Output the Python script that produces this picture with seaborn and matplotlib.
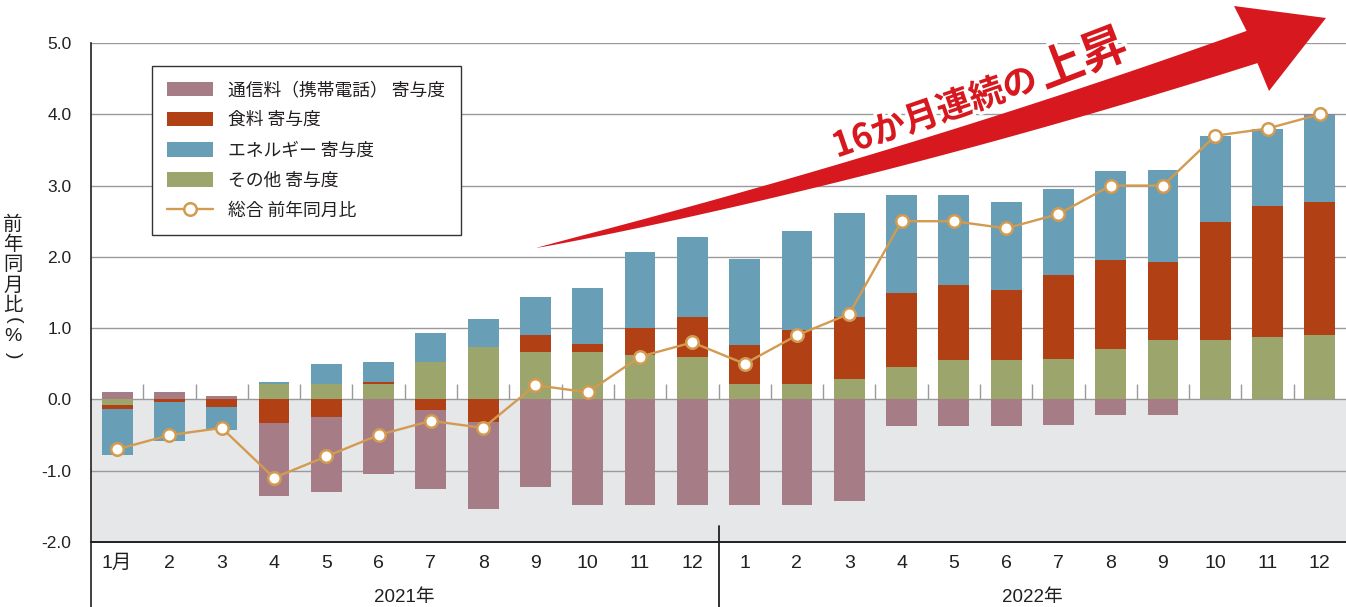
import numpy as np
import matplotlib
matplotlib.use("Agg")
import matplotlib.pyplot as plt
import matplotlib.transforms as mtransforms
import matplotlib.patheffects as pe
from matplotlib.patches import Patch, Polygon
from matplotlib.lines import Line2D
from matplotlib import font_manager
import seaborn as sns

# ---- data: contributions to CPI year-on-year change (percentage points) ----
month_labels = ["1月", "2", "3", "4", "5", "6", "7", "8", "9", "10", "11", "12",
                "1", "2", "3", "4", "5", "6", "7", "8", "9", "10", "11", "12"]
year_labels = ["2021年", "2022年"]

other = [-0.08, 0.00, 0.00, 0.22, 0.21, 0.22, 0.52, 0.74, 0.67, 0.66, 0.63, 0.60,
         0.21, 0.22, 0.28, 0.45, 0.55, 0.56, 0.57, 0.71, 0.83, 0.84, 0.88, 0.91]
food = [-0.06, -0.04, -0.11, -0.33, -0.25, 0.02, -0.15, -0.31, 0.24, 0.12, 0.37, 0.56,
        0.55, 0.75, 0.88, 1.05, 1.06, 0.98, 1.17, 1.24, 1.10, 1.65, 1.84, 1.86]
energy = [-0.64, -0.55, -0.32, 0.03, 0.28, 0.29, 0.41, 0.39, 0.52, 0.79, 1.07, 1.12,
          1.21, 1.39, 1.45, 1.37, 1.26, 1.23, 1.21, 1.26, 1.29, 1.20, 1.07, 1.22]
telecom = [0.10, 0.10, 0.05, -1.03, -1.05, -1.05, -1.10, -1.23, -1.23, -1.48, -1.48, -1.48,
           -1.48, -1.48, -1.43, -0.37, -0.37, -0.37, -0.36, -0.22, -0.22, 0.01, 0.01, 0.01]
total = [-0.7, -0.5, -0.4, -1.1, -0.8, -0.5, -0.3, -0.4, 0.2, 0.1, 0.6, 0.8,
         0.5, 0.9, 1.2, 2.5, 2.5, 2.4, 2.6, 3.0, 3.0, 3.7, 3.8, 4.0]

series_names = ["通信料（携帯電話） 寄与度", "食料 寄与度", "エネルギー 寄与度", "その他 寄与度"]
line_name = "総合 前年同月比"

C_TEL = "#a67c87"
C_FOOD = "#b14015"
C_ENERGY = "#689eb6"
C_OTHER = "#9ba56c"
C_LINE = "#d29b50"
C_TEXT = "#231f20"
C_GRID = "#9a9a9a"
C_NEG = "#e6e7e9"
C_RED = "#d7181f"

sns.set_theme(style="white")


def pick(name, fallback):
    try:
        font_manager.findfont(name, fallback_to_default=False)
        return name
    except Exception:
        return fallback


NARROW = pick("Liberation Sans Narrow", "Liberation Sans")
CJK = "Noto Sans CJK JP"
plt.rcParams["font.family"] = ["Liberation Sans", CJK, "DejaVu Sans"]

W, H = 1346, 607
fig = plt.figure(figsize=(W / 100, H / 100), dpi=100)
ax = fig.add_axes([91 / W, 65 / H, 1255 / W, 499 / H])

x = np.arange(len(month_labels))

# negative half shaded
ax.axhspan(-2, 0, color=C_NEG, zorder=0, lw=0)

# stacked contributions: positives upward, negatives downward, same order
pos_base = np.zeros(len(x))
neg_base = np.zeros(len(x))
for vals, color in [(other, C_OTHER), (food, C_FOOD), (energy, C_ENERGY), (telecom, C_TEL)]:
    v = np.asarray(vals, dtype=float)
    bottom = np.where(v >= 0, pos_base, neg_base)
    ax.bar(x, v, bottom=bottom, width=0.59, color=color, linewidth=0, zorder=2)
    pos_base += np.clip(v, 0, None)
    neg_base += np.clip(v, None, 0)

# headline CPI line
sns.lineplot(x=x, y=total, ax=ax, color=C_LINE, lw=1.7, marker="o", markersize=9,
             markerfacecolor="white", markeredgecolor=C_LINE, markeredgewidth=1.8,
             legend=False, zorder=5)

# axes styling
ax.set_xlim(-0.5, len(x) - 0.5)
ax.set_ylim(-2, 5)
yt = np.arange(-2, 5.01, 1.0)
ax.set_yticks(yt)
ax.set_yticklabels([f"{v:.1f}" for v in yt])
ax.yaxis.grid(True, color=C_GRID, lw=1.0)
ax.xaxis.grid(False)
ax.set_axisbelow(True)
ax.set_facecolor("white")
for s in ["top", "right"]:
    ax.spines[s].set_visible(False)
ax.spines["left"].set_color(C_TEXT)
ax.spines["left"].set_linewidth(1.2)
ax.spines["bottom"].set_color(C_TEXT)
ax.spines["bottom"].set_linewidth(1.4)
ax.tick_params(axis="y", length=0, pad=14, labelsize=12.5, labelcolor=C_TEXT)

ax.set_xticks(x)
ax.set_xticklabels(month_labels)
for lab in ax.get_xticklabels():
    lab.set_family([NARROW, CJK])
    lab.set_fontsize(14)
    lab.set_color(C_TEXT)
ax.tick_params(axis="x", which="major", length=0, pad=9)
seps = np.arange(0.5, len(x) - 1, 1.0)
ax.set_xticks(seps, minor=True)
ax.tick_params(axis="x", which="minor", direction="in", length=5, width=1.0, color=C_TEXT)

# small separators on the zero line
ax.vlines(seps, 0, 0.21, color=C_GRID, lw=1.0, zorder=1)

# year band below the month labels
blend = mtransforms.blended_transform_factory(ax.transData, ax.transAxes)
ax.plot([-0.5, -0.5], [0, -0.135], transform=blend, color=C_TEXT, lw=1.2, clip_on=False)
ax.plot([11.5, 11.5], [0.032, -0.135], transform=blend, color=C_TEXT, lw=1.3, clip_on=False)
for i, yl in enumerate(year_labels):
    ax.text(5.5 + 12 * i, -0.112, yl, transform=blend, ha="center", va="center",
            fontsize=13.5, family=[NARROW, CJK], color=C_TEXT)

# vertical axis title, one character per line; brackets turned for vertical writing
title_chars = ["前", "年", "同", "月", "比"]
ylab_x = 13 / W
for k, ch in enumerate(title_chars):
    fig.text(ylab_x, 1 - (224 + 20.5 * k) / H, ch, ha="center", va="center",
             fontsize=14, family=[CJK], color=C_TEXT)
fig.text(ylab_x, 1 - 320 / H, "(", rotation=-90, ha="center", va="center",
         fontsize=14, family=["Liberation Sans"], color=C_TEXT)
fig.text(ylab_x, 1 - 337 / H, "%", ha="center", va="center",
         fontsize=14, family=["Liberation Sans"], color=C_TEXT)
fig.text(ylab_x, 1 - 355 / H, ")", rotation=-90, ha="center", va="center",
         fontsize=14, family=["Liberation Sans"], color=C_TEXT)

# legend
handles = [Patch(facecolor=c, edgecolor="none") for c in (C_TEL, C_FOOD, C_ENERGY, C_OTHER)]
handles.append(Line2D([], [], color=C_LINE, lw=1.7, marker="o", markersize=9,
                      markerfacecolor="white", markeredgecolor=C_LINE, markeredgewidth=1.8))
leg = ax.legend(handles, series_names + [line_name], loc="upper left",
                bbox_to_anchor=((152 - 91) / 1255, (542 - 66) / 499), borderaxespad=0,
                prop={"family": [CJK, "DejaVu Sans"], "size": 12.8},
                handlelength=2.6, handleheight=0.9, handletextpad=0.85,
                labelspacing=0.68, borderpad=0.85, fancybox=False, frameon=True)
leg.get_frame().set_edgecolor("#333333")
leg.get_frame().set_linewidth(1.0)
leg.get_frame().set_facecolor("white")
leg.get_frame().set_alpha(1.0)
for t in leg.get_texts():
    t.set_color(C_TEXT)
leg.set_zorder(6)

# rising trend arrow (figure pixel space, y measured from the top)
P0 = np.array([536.0, 248.0])
P1 = np.array([894.0, 168.0])
P2 = np.array([1252.0, 47.0])
tt = np.linspace(0, 1, 80)
cen = ((1 - tt) ** 2)[:, None] * P0 + (2 * (1 - tt) * tt)[:, None] * P1 + (tt ** 2)[:, None] * P2
der = (2 * (1 - tt))[:, None] * (P1 - P0) + (2 * tt)[:, None] * (P2 - P1)
nrm = np.stack([-der[:, 1], der[:, 0]], axis=1)
nrm /= np.linalg.norm(nrm, axis=1)[:, None]
half = 0.5 * 34 * tt ** 0.8
side_a = cen + nrm * half[:, None]
side_b = cen - nrm * half[:, None]
head = np.array([[1269.0, 91.0], [1326.0, 18.0], [1234.0, 6.0]])
pts = np.vstack([side_a, head, side_b[::-1]])
pts_fig = np.column_stack([pts[:, 0] / W, 1 - pts[:, 1] / H])
fig.add_artist(Polygon(pts_fig, closed=True, transform=fig.transFigure,
                       facecolor=C_RED, edgecolor="none", zorder=4))

stroke = [pe.withStroke(linewidth=5, foreground="white")]
fig.text(935 / W, 1 - 113 / H, "16か月連続の", rotation=19, ha="center", va="center",
         rotation_mode="anchor", fontsize=25, fontweight="bold", color=C_RED,
         family=[CJK, "DejaVu Sans"], path_effects=stroke, zorder=7)
fig.text(1083 / W, 1 - 60 / H, "上昇", rotation=21, ha="center", va="center",
         rotation_mode="anchor", fontsize=33, fontweight="bold", color=C_RED,
         family=[CJK, "DejaVu Sans"], path_effects=stroke, zorder=7)

fig.savefig("out.png", dpi=100, facecolor="white")
